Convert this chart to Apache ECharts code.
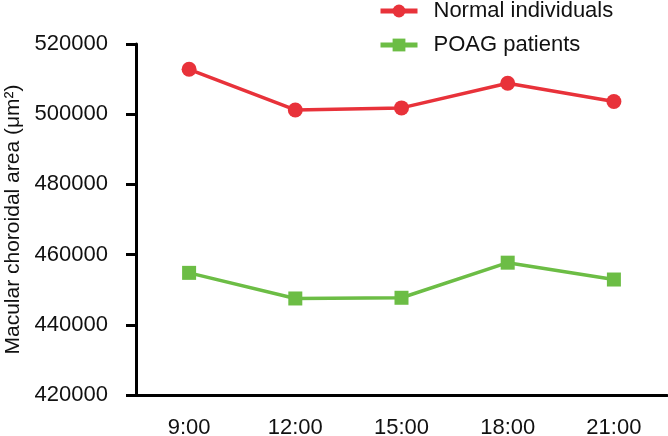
<!DOCTYPE html>
<html>
<head>
<meta charset="utf-8">
<script src="https://cdn.jsdelivr.net/npm/echarts@6/dist/echarts.min.js"></script>
<style>
html,body{margin:0;padding:0;background:#fff;}
#c{width:668px;height:436px;}
</style>
</head>
<body>
<div id="c"></div>
<script>
var categories = ['9:00', '12:00', '15:00', '18:00', '21:00'];
var normalValues = [512800, 501200, 501800, 508800, 503600];
var poagValues = [454800, 447500, 447700, 457700, 452900];
var seriesNames = ['Normal individuals', 'POAG patients'];
var yTicks = [420000, 440000, 460000, 480000, 500000, 520000];

var FONT = '"Liberation Sans", Arial, Helvetica, sans-serif';
var RED = '#E8323A';
var GREEN = '#6CBD45';

var chart = echarts.init(document.getElementById('c'));
chart.setOption({
  animation: false,
  backgroundColor: '#ffffff',
  textStyle: { fontFamily: FONT },
  legend: {
    orient: 'vertical',
    left: 373,
    top: -5,
    itemWidth: 37,
    itemHeight: 16,
    itemGap: 12,
    lineStyle: { width: 5 },
    textStyle: { fontFamily: FONT, fontSize: 22, color: '#111', padding: [0, 0, 0, 11] },
    data: seriesNames
  },
  grid: { left: 136, right: 1, top: 44, bottom: 41, containLabel: false, outerBoundsMode: 'none' },
  xAxis: {
    type: 'category',
    data: categories,
    boundaryGap: true,
    axisLine: { lineStyle: { color: '#000', width: 3 } },
    axisTick: { alignWithLabel: true, length: 10, lineStyle: { color: '#000', width: 3 } },
    axisLabel: { fontFamily: FONT, fontSize: 22, color: '#111', margin: 22 },
    splitLine: { show: false }
  },
  yAxis: {
    type: 'value',
    min: yTicks[0],
    max: yTicks[yTicks.length - 1],
    interval: yTicks[1] - yTicks[0],
    name: 'Macular choroidal area (μm²)',
    nameLocation: 'middle',
    nameGap: 111,
    nameTextStyle: { fontFamily: FONT, fontSize: 21, color: '#111' },
    axisLine: { show: true, lineStyle: { color: '#000', width: 3 } },
    axisTick: { show: true, length: 10, lineStyle: { color: '#000', width: 3 } },
    axisLabel: { fontFamily: FONT, fontSize: 22, color: '#111', margin: 28,
      formatter: function (v) { return String(v); } },
    splitLine: { show: false }
  },
  series: [
    {
      name: seriesNames[0],
      type: 'line',
      data: normalValues,
      symbol: 'circle',
      symbolSize: 15,
      lineStyle: { color: RED, width: 3.5 },
      itemStyle: { color: RED }
    },
    {
      name: seriesNames[1],
      type: 'line',
      data: poagValues,
      symbol: 'rect',
      symbolSize: 14,
      lineStyle: { color: GREEN, width: 3.5 },
      itemStyle: { color: GREEN }
    }
  ]
});
</script>
</body>
</html>
